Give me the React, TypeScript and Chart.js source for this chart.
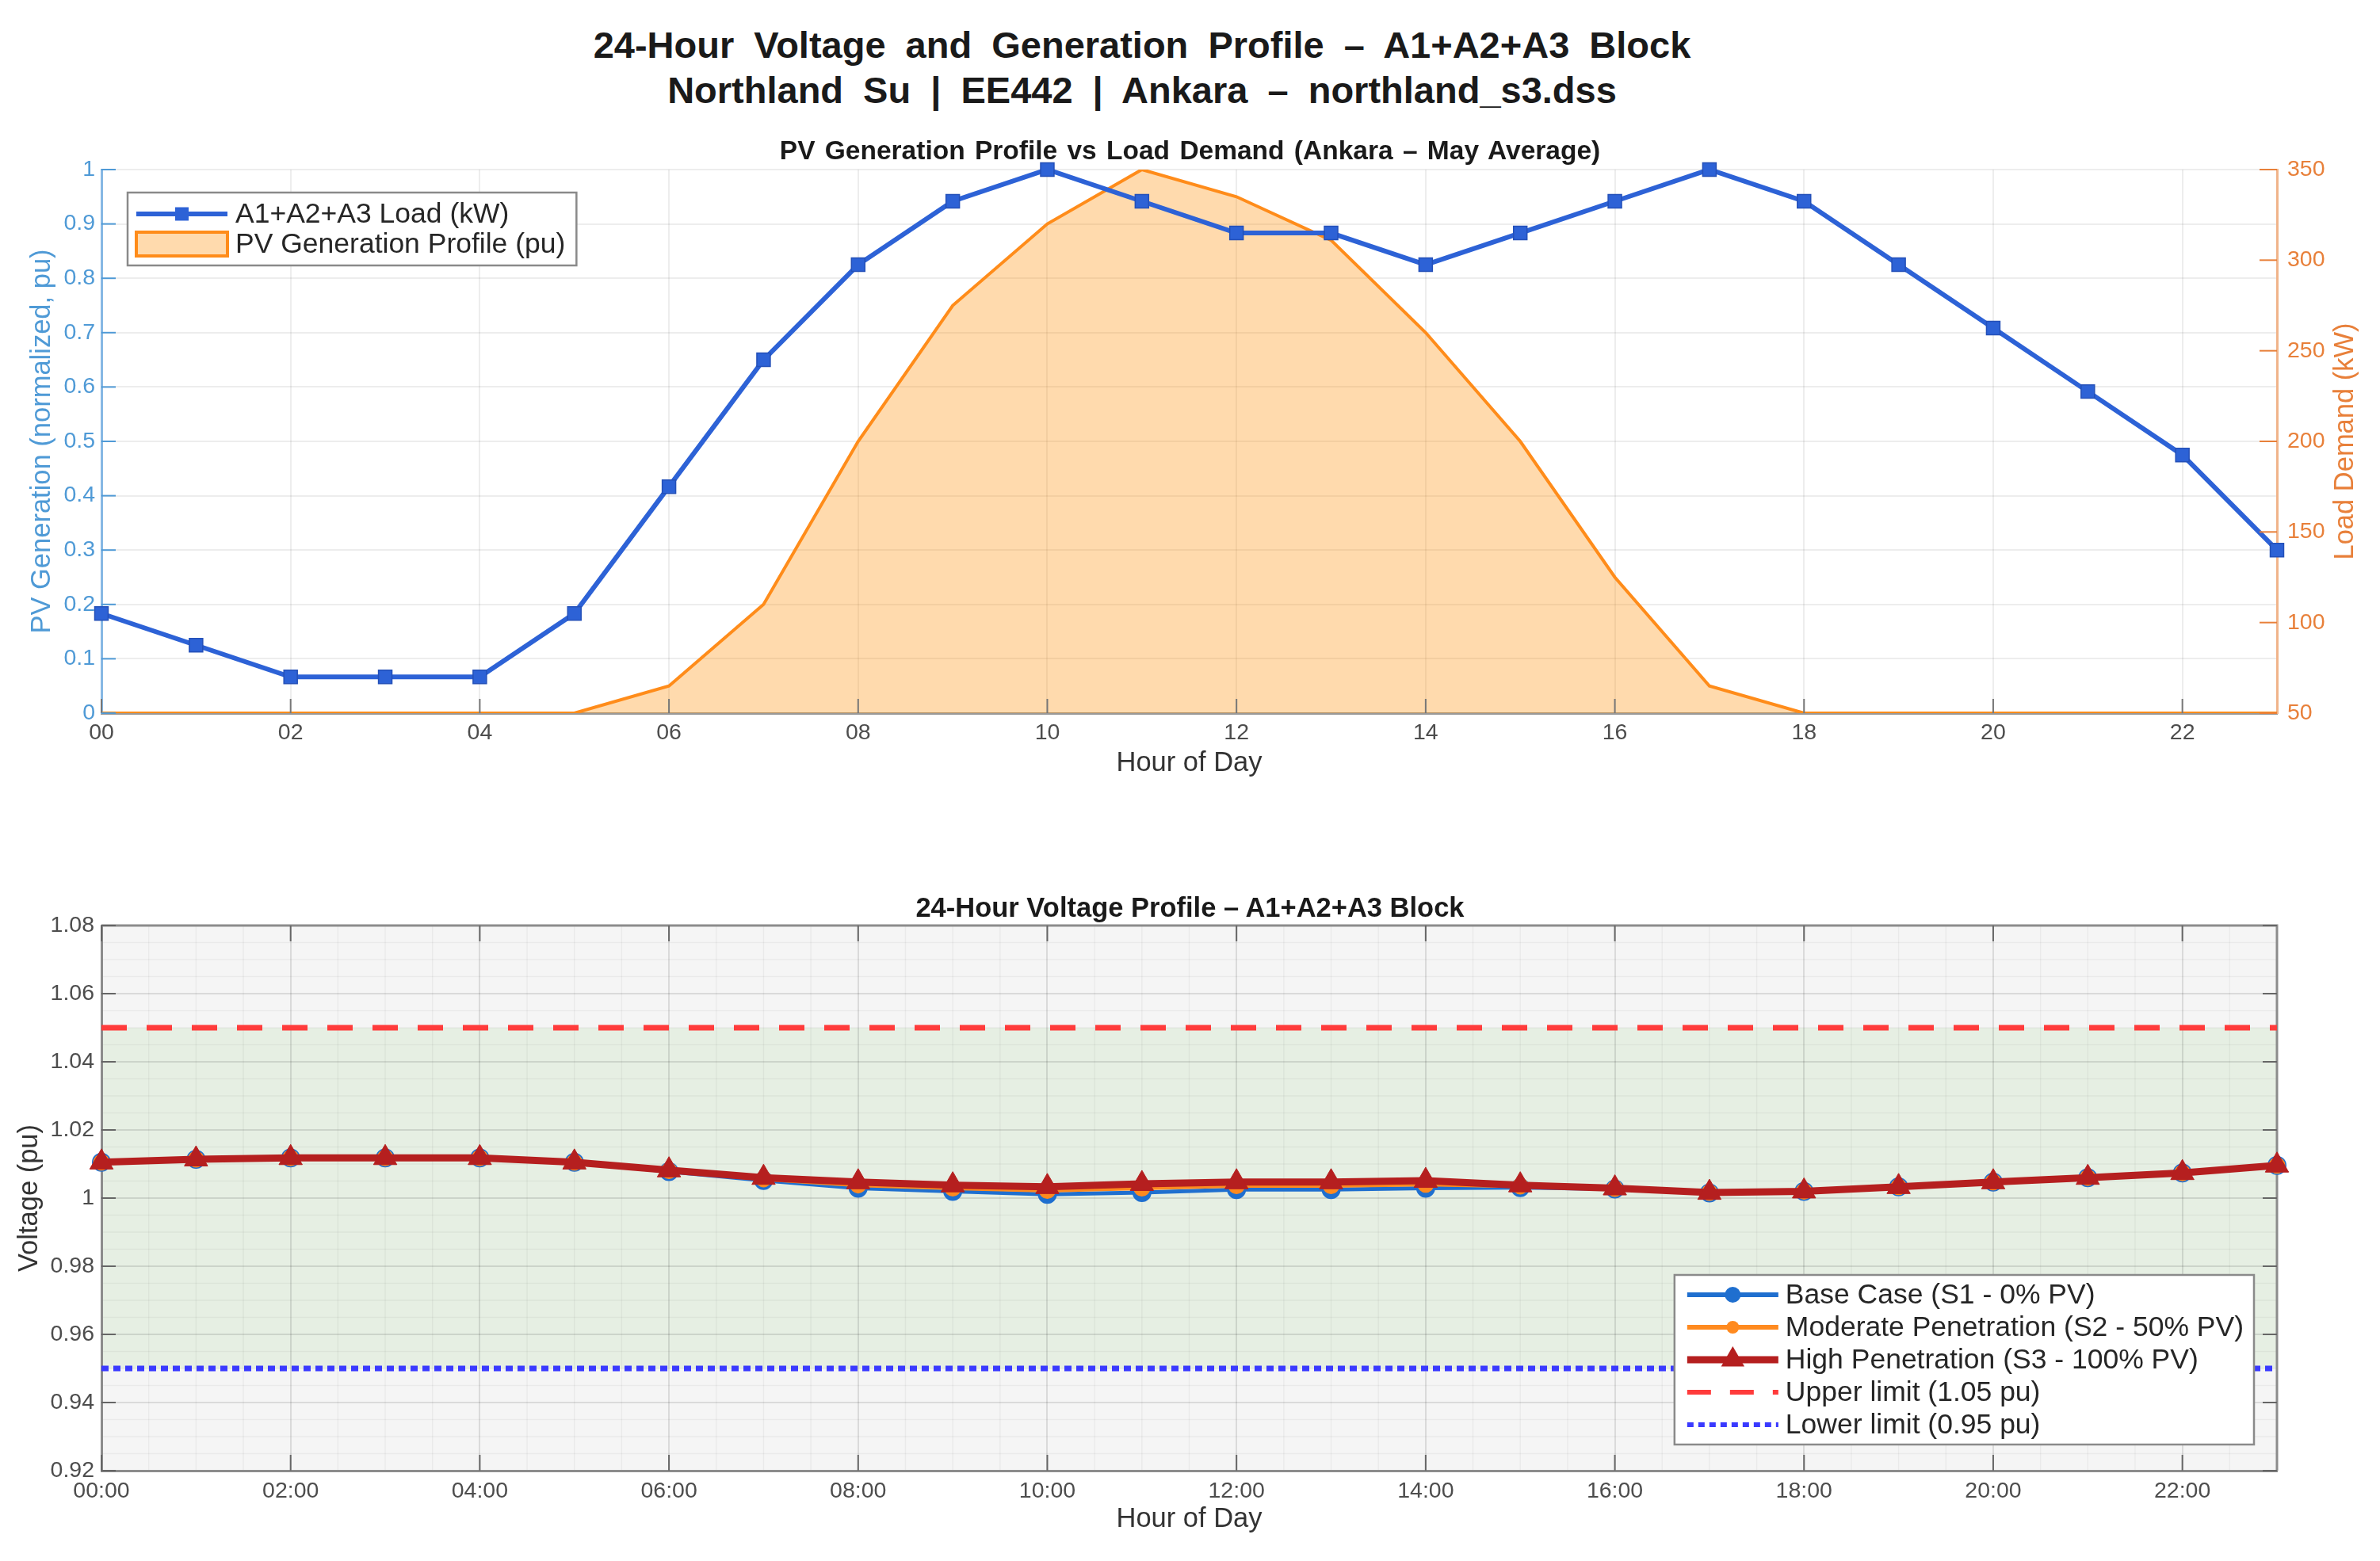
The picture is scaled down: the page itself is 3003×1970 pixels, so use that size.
import React, { useEffect, useRef } from 'react';
import { Chart, registerables } from 'chart.js';

Chart.register(...registerables);

const FONT = '"Liberation Sans", Arial, Helvetica, sans-serif';

// ---------------- DATA ----------------
const HOURS = [0, 1, 2, 3, 4, 5, 6, 7, 8, 9, 10, 11, 12, 13, 14, 15, 16, 17, 18, 19, 20, 21, 22, 23];
const HOUR_TICKS = [0, 2, 4, 6, 8, 10, 12, 14, 16, 18, 20, 22];
const HOUR_RANGE = [0, 23];

const LOAD_KW = [105, 87.5, 70, 70, 70, 105, 175, 245, 297.5, 332.5, 350, 332.5, 315, 315, 297.5, 315, 332.5, 350, 332.5, 297.5, 262.5, 227.5, 192.5, 140];
const PV_PU = [0, 0, 0, 0, 0, 0, 0.05, 0.2, 0.5, 0.75, 0.9, 1.0, 0.95, 0.87, 0.7, 0.5, 0.25, 0.05, 0, 0, 0, 0, 0, 0];

const PV_TICKS = [0, 0.1, 0.2, 0.3, 0.4, 0.5, 0.6, 0.7, 0.8, 0.9, 1];
const LOAD_TICKS = [50, 100, 150, 200, 250, 300, 350];
const VOLT_TICKS = [0.92, 0.94, 0.96, 0.98, 1.0, 1.02, 1.04, 1.06, 1.08];

const V_BASE = [1.0105, 1.0114, 1.0118, 1.0118, 1.0118, 1.0105, 1.0078, 1.0052, 1.0029, 1.002, 1.0011, 1.0016, 1.0025, 1.0025, 1.0029, 1.0031, 1.0027, 1.0015, 1.002, 1.0033, 1.0047, 1.006, 1.0074, 1.0096];
const V_MODERATE = [1.0105, 1.0114, 1.0118, 1.0118, 1.0118, 1.0105, 1.008, 1.0056, 1.0038, 1.0029, 1.0022, 1.0029, 1.0036, 1.0036, 1.004, 1.0035, 1.0028, 1.0016, 1.002, 1.0033, 1.0047, 1.006, 1.0074, 1.0096];
const V_HIGH = [1.0105, 1.0114, 1.0118, 1.0118, 1.0118, 1.0105, 1.0082, 1.006, 1.0047, 1.0038, 1.0033, 1.0042, 1.0047, 1.0047, 1.0051, 1.0038, 1.0029, 1.0016, 1.002, 1.0033, 1.0047, 1.006, 1.0074, 1.0096];

const UPPER_LIMIT = 1.05;
const LOWER_LIMIT = 0.95;

const MAIN_TITLE = ['24-Hour Voltage and Generation Profile \u2013 A1+A2+A3 Block', 'Northland Su | EE442 | Ankara \u2013 northland_s3.dss'];
const TOP_TITLE = 'PV Generation Profile vs Load Demand (Ankara \u2013 May Average)';
const BOTTOM_TITLE = '24-Hour Voltage Profile \u2013 A1+A2+A3 Block';

// ---------------- STYLE ----------------
const LOAD_COLOR = '#2d62d6';
const PV_COLOR = '#ff8c1a';
const PV_FILL = 'rgba(255,140,0,0.32)';
const LEFT_AXIS_COLOR = '#4f9ad6';
const RIGHT_AXIS_COLOR = '#e8803a';
const BASE_COLOR = '#1f6fcf';
const MOD_COLOR = '#ff8a1f';
const HIGH_COLOR = '#b51f1f';
const UPPER_COLOR = '#ff3b3b';
const LOWER_COLOR = '#3a3aff';
const TICK_TEXT = '#4d4d4d';
const AXIS_GRAY = '#8c8c8c';

const tickFont = { family: FONT, size: 28.5 };
const axisTitleFont = { family: FONT, size: 34.5 };

const pts = (ys: number[]) => ys.map((y, i) => ({ x: HOURS[i], y }));
const flat = (v: number) => HOUR_RANGE.map((x) => ({ x, y: v }));

function drawMarker(ctx: CanvasRenderingContext2D, style: string, x: number, y: number, r: number, fill: string) {
  ctx.beginPath();
  if (style === 'circle') {
    ctx.arc(x, y, r, 0, Math.PI * 2);
  } else if (style === 'rect') {
    const s = r * Math.SQRT1_2;
    ctx.rect(x - s, y - s, 2 * s, 2 * s);
  } else if (style === 'triangle') {
    for (let k = 0; k < 3; k++) {
      const a = -Math.PI / 2 + (k * 2 * Math.PI) / 3;
      const px = x + r * Math.cos(a);
      const py = y + r * Math.sin(a);
      if (k === 0) ctx.moveTo(px, py);
      else ctx.lineTo(px, py);
    }
    ctx.closePath();
  }
  ctx.fillStyle = fill;
  ctx.fill();
}

type LegendItem = {
  label: string;
  kind: 'line' | 'patch';
  color: string;
  fill?: string;
  width?: number;
  dash?: number[];
  marker?: string;
  r?: number;
};

type LegendCfg = {
  anchor: 'tl' | 'br';
  dx: number;
  dy: number;
  padL: number;
  padR: number;
  padT: number;
  rowH: number;
  sampleLen: number;
  gap: number;
  fontSize: number;
  items: LegendItem[];
};

function legendPlugin(id: string, cfg: LegendCfg) {
  return {
    id,
    afterDatasetsDraw(chart: any) {
      const { ctx, chartArea: a } = chart;
      ctx.save();
      ctx.font = `${cfg.fontSize}px ${FONT}`;
      const textW = Math.max(...cfg.items.map((it) => ctx.measureText(it.label).width));
      const w = cfg.padL + cfg.sampleLen + cfg.gap + textW + cfg.padR;
      const h = cfg.padT * 2 + cfg.rowH * (cfg.items.length - 1);
      const left = cfg.anchor === 'tl' ? a.left + cfg.dx : a.right - cfg.dx - w;
      const top = cfg.anchor === 'tl' ? a.top + cfg.dy : a.bottom - cfg.dy - h;
      ctx.fillStyle = '#ffffff';
      ctx.fillRect(left, top, w, h);
      ctx.strokeStyle = '#8a8a8a';
      ctx.lineWidth = 2.5;
      ctx.strokeRect(left, top, w, h);
      cfg.items.forEach((it, i) => {
        const cy = top + cfg.padT + i * cfg.rowH;
        const x0 = left + cfg.padL;
        const x1 = x0 + cfg.sampleLen;
        if (it.kind === 'patch') {
          ctx.fillStyle = it.fill || it.color;
          ctx.fillRect(x0, cy - 15, cfg.sampleLen, 30);
          ctx.strokeStyle = it.color;
          ctx.lineWidth = 4;
          ctx.setLineDash([]);
          ctx.strokeRect(x0, cy - 15, cfg.sampleLen, 30);
        } else {
          ctx.beginPath();
          ctx.setLineDash(it.dash || []);
          ctx.strokeStyle = it.color;
          ctx.lineWidth = it.width || 4;
          ctx.lineCap = 'butt';
          ctx.moveTo(x0, cy);
          ctx.lineTo(x1, cy);
          ctx.stroke();
          ctx.setLineDash([]);
          if (it.marker) drawMarker(ctx, it.marker, (x0 + x1) / 2, cy, it.r || 8, it.color);
        }
        ctx.fillStyle = '#262626';
        ctx.textAlign = 'left';
        ctx.textBaseline = 'middle';
        ctx.fillText(it.label, x1 + cfg.gap, cy + 1);
      });
      ctx.restore();
    },
  };
}

function useChart(ref: React.RefObject<HTMLCanvasElement>, makeConfig: () => any) {
  useEffect(() => {
    if (!ref.current) return;
    const chart = new Chart(ref.current, makeConfig());
    return () => chart.destroy();
  }, []);
}

function topConfig() {
  const innerTicks = {
    id: 'innerTicksTop',
    afterDatasetsDraw(chart: any) {
      const { ctx, chartArea: a, scales } = chart;
      ctx.save();
      ctx.lineWidth = 2;
      ctx.strokeStyle = '#777';
      HOUR_TICKS.forEach((v) => {
        const x = scales.x.getPixelForValue(v);
        ctx.beginPath();
        ctx.moveTo(x, a.bottom);
        ctx.lineTo(x, a.bottom - 18);
        ctx.stroke();
      });
      ctx.strokeStyle = LEFT_AXIS_COLOR;
      PV_TICKS.forEach((v) => {
        const y = scales.yPV.getPixelForValue(v);
        ctx.beginPath();
        ctx.moveTo(a.left, y);
        ctx.lineTo(a.left + 18, y);
        ctx.stroke();
      });
      ctx.strokeStyle = RIGHT_AXIS_COLOR;
      LOAD_TICKS.forEach((v) => {
        const y = scales.yLoad.getPixelForValue(v);
        ctx.beginPath();
        ctx.moveTo(a.right, y);
        ctx.lineTo(a.right - 22, y);
        ctx.stroke();
      });
      // right axis title, reading bottom to top
      ctx.fillStyle = RIGHT_AXIS_COLOR;
      ctx.font = `${axisTitleFont.size}px ${FONT}`;
      ctx.textAlign = 'center';
      ctx.textBaseline = 'middle';
      ctx.translate(2959, (a.top + a.bottom) / 2);
      ctx.rotate(-Math.PI / 2);
      ctx.fillText('Load Demand (kW)', 0, 0);
      ctx.restore();
    },
  };

  const legend = legendPlugin('legendTop', {
    anchor: 'tl',
    dx: 33,
    dy: 29,
    padL: 11,
    padR: 14,
    padT: 27,
    rowH: 38,
    sampleLen: 115,
    gap: 10,
    fontSize: 35.5,
    items: [
      { label: 'A1+A2+A3 Load (kW)', kind: 'line', color: LOAD_COLOR, width: 6, marker: 'rect', r: 12 },
      { label: 'PV Generation Profile (pu)', kind: 'patch', color: PV_COLOR, fill: PV_FILL },
    ],
  });

  return {
    type: 'line',
    data: {
      datasets: [
        {
          label: 'A1+A2+A3 Load (kW)',
          data: pts(LOAD_KW),
          yAxisID: 'yLoad',
          borderColor: LOAD_COLOR,
          borderWidth: 6,
          pointStyle: 'rect',
          pointRadius: 12,
          pointBackgroundColor: LOAD_COLOR,
          pointBorderColor: '#2450b8',
          pointBorderWidth: 1.5,
          tension: 0,
          clip: false,
          order: 0,
        },
        {
          label: 'PV Generation Profile (pu)',
          data: pts(PV_PU),
          yAxisID: 'yPV',
          borderColor: PV_COLOR,
          borderWidth: 4,
          backgroundColor: PV_FILL,
          fill: 'origin',
          pointRadius: 0,
          tension: 0,
          order: 1,
        },
      ],
    },
    options: {
      responsive: false,
      animation: false,
      events: [],
      layout: { padding: { top: 64, left: 0, right: 0, bottom: 0 } },
      plugins: { legend: { display: false }, tooltip: { enabled: false }, title: { display: false } },
      scales: {
        x: {
          type: 'linear',
          position: 'bottom',
          min: HOUR_RANGE[0],
          max: HOUR_RANGE[1],
          afterBuildTicks: (s: any) => {
            s.ticks = HOUR_TICKS.map((v) => ({ value: v }));
          },
          ticks: {
            font: tickFont,
            color: TICK_TEXT,
            padding: 8,
            maxRotation: 0,
            autoSkip: false,
            callback: (v: any) => String(v).padStart(2, '0'),
          },
          grid: { color: 'rgba(0,0,0,0.07)', lineWidth: 2, drawTicks: false },
          border: { color: '#9a9a9a', width: 3 },
          title: { display: true, text: 'Hour of Day', font: axisTitleFont, color: '#333', padding: { top: 0, bottom: 26 } },
          afterFit: (s: any) => {
            s.height = 110;
          },
        },
        yPV: {
          type: 'linear',
          position: 'left',
          min: 0,
          max: 1,
          afterBuildTicks: (s: any) => {
            s.ticks = PV_TICKS.map((v) => ({ value: v }));
          },
          ticks: {
            font: tickFont,
            color: LEFT_AXIS_COLOR,
            padding: 8,
            callback: (v: any) => String(Number(Number(v).toFixed(1))),
          },
          grid: { color: 'rgba(0,0,0,0.07)', lineWidth: 2, drawTicks: false },
          border: { color: '#86b8e4', width: 3 },
          title: { display: true, text: 'PV Generation (normalized, pu)', font: axisTitleFont, color: LEFT_AXIS_COLOR, padding: { top: 33, bottom: 0 } },
          afterFit: (s: any) => {
            s.width = 128;
          },
        },
        yLoad: {
          type: 'linear',
          position: 'right',
          min: 50,
          max: 350,
          afterBuildTicks: (s: any) => {
            s.ticks = LOAD_TICKS.map((v) => ({ value: v }));
          },
          ticks: { font: tickFont, color: RIGHT_AXIS_COLOR, padding: 13 },
          grid: { display: false, drawTicks: false },
          border: { color: '#f0b48a', width: 3 },
          afterFit: (s: any) => {
            s.width = 130;
          },
        },
      },
    },
    plugins: [innerTicks, legend],
  };
}

function bottomConfig() {
  const bands = {
    id: 'voltageBands',
    beforeDraw(chart: any) {
      const { ctx, chartArea: a, scales } = chart;
      const y = scales.y;
      const x = scales.x;
      ctx.save();
      ctx.fillStyle = '#f5f5f5';
      ctx.fillRect(a.left, a.top, a.right - a.left, a.bottom - a.top);
      const yU = y.getPixelForValue(UPPER_LIMIT);
      const yL = y.getPixelForValue(LOWER_LIMIT);
      ctx.fillStyle = '#e6efe3';
      ctx.fillRect(a.left, yU, a.right - a.left, yL - yU);
      // minor grid
      ctx.strokeStyle = 'rgba(0,0,0,0.045)';
      ctx.lineWidth = 1.5;
      for (let i = 0; i < HOUR_TICKS.length; i++) {
        const h = HOUR_TICKS[i];
        for (let k = 1; k < 4; k++) {
          const hv = h + k * 0.5;
          if (hv >= HOUR_RANGE[1]) continue;
          const px = x.getPixelForValue(hv);
          ctx.beginPath();
          ctx.moveTo(px, a.top);
          ctx.lineTo(px, a.bottom);
          ctx.stroke();
        }
      }
      for (let i = 0; i < VOLT_TICKS.length - 1; i++) {
        for (let k = 1; k < 4; k++) {
          const v = VOLT_TICKS[i] + (k * (VOLT_TICKS[i + 1] - VOLT_TICKS[i])) / 4;
          const py = y.getPixelForValue(v);
          ctx.beginPath();
          ctx.moveTo(a.left, py);
          ctx.lineTo(a.right, py);
          ctx.stroke();
        }
      }
      ctx.restore();
    },
  };

  const frame = {
    id: 'frameBottom',
    beforeDatasetsDraw(chart: any) {
      const { ctx, chartArea: a, scales } = chart;
      ctx.save();
      ctx.strokeStyle = AXIS_GRAY;
      ctx.lineWidth = 3;
      ctx.beginPath();
      ctx.moveTo(a.left, a.top);
      ctx.lineTo(a.right, a.top);
      ctx.lineTo(a.right, a.bottom);
      ctx.stroke();
      ctx.strokeStyle = '#666';
      ctx.lineWidth = 2;
      HOUR_TICKS.forEach((v) => {
        const px = scales.x.getPixelForValue(v);
        ctx.beginPath();
        ctx.moveTo(px, a.bottom);
        ctx.lineTo(px, a.bottom - 20);
        ctx.moveTo(px, a.top);
        ctx.lineTo(px, a.top + 20);
        ctx.stroke();
      });
      VOLT_TICKS.forEach((v) => {
        const py = scales.y.getPixelForValue(v);
        ctx.beginPath();
        ctx.moveTo(a.left, py);
        ctx.lineTo(a.left + 18, py);
        ctx.moveTo(a.right, py);
        ctx.lineTo(a.right - 18, py);
        ctx.stroke();
      });
      ctx.restore();
    },
  };

  const legend = legendPlugin('legendBottom', {
    anchor: 'br',
    dx: 29,
    dy: 33,
    padL: 16,
    padR: 13,
    padT: 25,
    rowH: 41,
    sampleLen: 115,
    gap: 9,
    fontSize: 35.5,
    items: [
      { label: 'Base Case (S1 - 0% PV)', kind: 'line', color: BASE_COLOR, width: 6, marker: 'circle', r: 10 },
      { label: 'Moderate Penetration (S2 - 50% PV)', kind: 'line', color: MOD_COLOR, width: 6, marker: 'circle', r: 8 },
      { label: 'High Penetration (S3 - 100% PV)', kind: 'line', color: HIGH_COLOR, width: 9, marker: 'triangle', r: 17 },
      { label: 'Upper limit (1.05 pu)', kind: 'line', color: UPPER_COLOR, width: 6, dash: [30, 24] },
      { label: 'Lower limit (0.95 pu)', kind: 'line', color: LOWER_COLOR, width: 6, dash: [8, 6] },
    ],
  });

  return {
    type: 'line',
    data: {
      datasets: [
        {
          label: 'High Penetration (S3 - 100% PV)',
          data: pts(V_HIGH),
          borderColor: HIGH_COLOR,
          borderWidth: 9,
          pointStyle: 'triangle',
          pointRadius: 17,
          pointBackgroundColor: HIGH_COLOR,
          pointBorderColor: HIGH_COLOR,
          pointBorderWidth: 1,
          tension: 0,
          clip: false,
          order: 0,
        },
        {
          label: 'Moderate Penetration (S2 - 50% PV)',
          data: pts(V_MODERATE),
          borderColor: MOD_COLOR,
          borderWidth: 5,
          pointStyle: 'circle',
          pointRadius: 8,
          pointBackgroundColor: MOD_COLOR,
          pointBorderColor: MOD_COLOR,
          tension: 0,
          clip: false,
          order: 1,
        },
        {
          label: 'Base Case (S1 - 0% PV)',
          data: pts(V_BASE),
          borderColor: BASE_COLOR,
          borderWidth: 5,
          pointStyle: 'circle',
          pointRadius: 9.5,
          pointBackgroundColor: BASE_COLOR,
          pointBorderColor: BASE_COLOR,
          tension: 0,
          clip: false,
          order: 2,
        },
        {
          label: 'Upper limit (1.05 pu)',
          data: flat(UPPER_LIMIT),
          borderColor: UPPER_COLOR,
          borderWidth: 7,
          borderDash: [32, 25],
          borderCapStyle: 'butt',
          pointRadius: 0,
          order: 3,
        },
        {
          label: 'Lower limit (0.95 pu)',
          data: flat(LOWER_LIMIT),
          borderColor: LOWER_COLOR,
          borderWidth: 7,
          borderDash: [9, 6],
          borderCapStyle: 'butt',
          pointRadius: 0,
          order: 4,
        },
      ],
    },
    options: {
      responsive: false,
      animation: false,
      events: [],
      layout: { padding: { top: 108, left: 0, right: 130, bottom: 0 } },
      plugins: { legend: { display: false }, tooltip: { enabled: false }, title: { display: false } },
      scales: {
        x: {
          type: 'linear',
          position: 'bottom',
          min: HOUR_RANGE[0],
          max: HOUR_RANGE[1],
          afterBuildTicks: (s: any) => {
            s.ticks = HOUR_TICKS.map((v) => ({ value: v }));
          },
          ticks: {
            font: tickFont,
            color: TICK_TEXT,
            padding: 9,
            maxRotation: 0,
            autoSkip: false,
            callback: (v: any) => `${String(v).padStart(2, '0')}:00`,
          },
          grid: { color: 'rgba(0,0,0,0.11)', lineWidth: 2, drawTicks: false },
          border: { color: AXIS_GRAY, width: 3 },
          title: { display: true, text: 'Hour of Day', font: axisTitleFont, color: '#333', padding: { top: 0, bottom: 32 } },
          afterFit: (s: any) => {
            s.height = 114;
          },
        },
        y: {
          type: 'linear',
          position: 'left',
          min: VOLT_TICKS[0],
          max: VOLT_TICKS[VOLT_TICKS.length - 1],
          afterBuildTicks: (s: any) => {
            s.ticks = VOLT_TICKS.map((v) => ({ value: v }));
          },
          ticks: {
            font: tickFont,
            color: TICK_TEXT,
            padding: 9,
            callback: (v: any) => String(Number(Number(v).toFixed(2))),
          },
          grid: { color: 'rgba(0,0,0,0.11)', lineWidth: 2, drawTicks: false },
          border: { color: AXIS_GRAY, width: 3 },
          title: { display: true, text: 'Voltage (pu)', font: axisTitleFont, color: '#333', padding: { top: 17, bottom: 0 } },
          afterFit: (s: any) => {
            s.width = 128;
          },
        },
      },
    },
    plugins: [bands, frame, legend],
  };
}

export default function App() {
  const topRef = useRef<HTMLCanvasElement>(null);
  const bottomRef = useRef<HTMLCanvasElement>(null);
  useChart(topRef, topConfig);
  useChart(bottomRef, bottomConfig);

  const titleStyle: React.CSSProperties = {
    position: 'absolute',
    left: 0,
    width: 3003,
    textAlign: 'center',
    fontFamily: FONT,
    fontWeight: 'bold',
    color: '#1a1a1a',
    whiteSpace: 'pre',
  };

  return (
    <div style={{ position: 'absolute', left: 0, top: 0, width: 3003, height: 1970, background: '#ffffff', overflow: 'hidden' }}>
      <div style={{ ...titleStyle, width: 2882, top: 28, fontSize: 47, lineHeight: '57px', wordSpacing: '12px' }}>
        {MAIN_TITLE[0]}
        <br />
        {MAIN_TITLE[1]}
      </div>
      <canvas ref={topRef} width={3003} height={860} style={{ position: 'absolute', left: 0, top: 150, width: 3003, height: 860 }} />
      <canvas ref={bottomRef} width={3003} height={910} style={{ position: 'absolute', left: 0, top: 1060, width: 3003, height: 910 }} />
      <div style={{ ...titleStyle, top: 170, fontSize: 33.5, lineHeight: '40px', wordSpacing: '3px' }}>{TOP_TITLE}</div>
      <div style={{ ...titleStyle, top: 1125, fontSize: 34.5, lineHeight: '40px' }}>{BOTTOM_TITLE}</div>
    </div>
  );
}
